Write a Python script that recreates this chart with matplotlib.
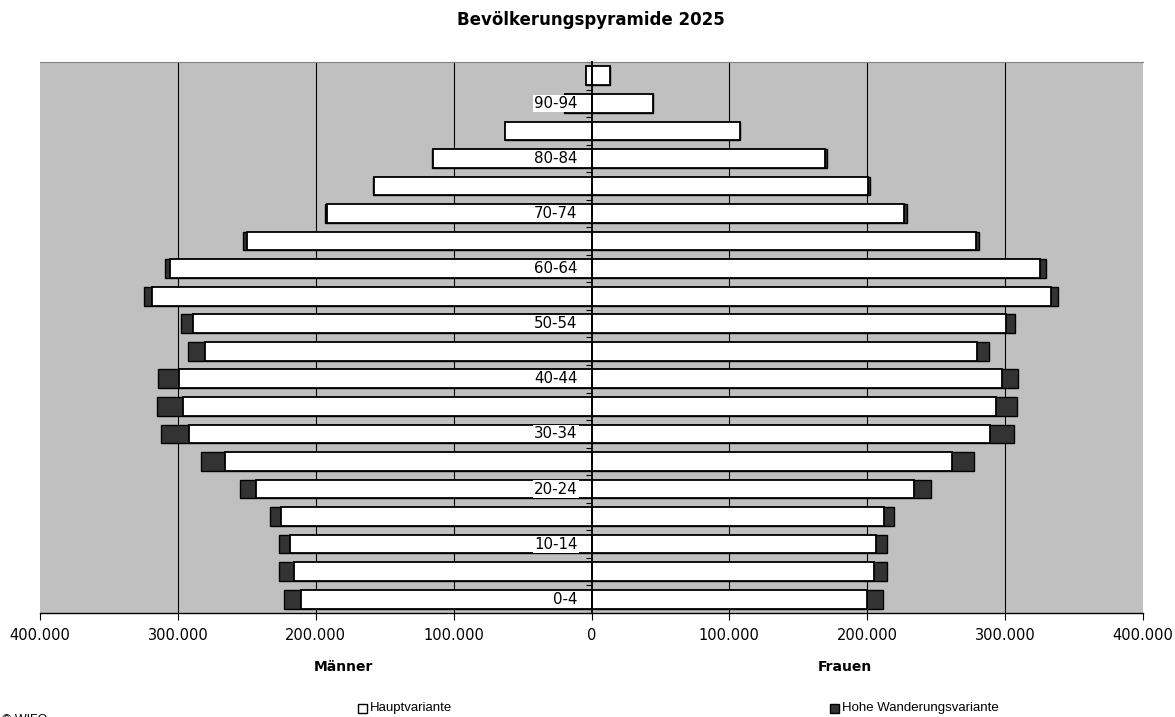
import matplotlib
matplotlib.use("Agg")
import matplotlib.pyplot as plt
from matplotlib.patches import Rectangle
import numpy as np

# age groups from youngest to oldest
age_groups = ['0-4', '5-9', '10-14', '15-19', '20-24', '25-29', '30-34', '35-39',
              '40-44', '45-49', '50-54', '55-59', '60-64', '65-69', '70-74',
              '75-79', '80-84', '85-89', '90-94', '95+']

# Männer, Hauptvariante / hohe Wanderungsvariante
men_main = [211000, 216000, 219000, 225500, 243000, 266000, 292000, 296000,
            299000, 280000, 289000, 318500, 306000, 250000, 191500, 157500,
            115000, 62500, 19500, 4000]
men_high = [223000, 226500, 227000, 233000, 255000, 283500, 312000, 315000,
            314500, 292500, 297500, 324500, 309500, 253000, 193500, 158500,
            115500, 63000, 19700, 4100]

# Frauen
women_main = [199600, 205000, 206600, 212400, 234000, 261200, 289000, 293300,
              298000, 279500, 300500, 333100, 325600, 278600, 226900, 200400,
              169700, 107400, 44400, 13300]
women_high = [211200, 214600, 214100, 219600, 246000, 277600, 306500, 308300,
              309700, 288000, 306800, 338000, 329300, 281200, 229000, 202000,
              171100, 107800, 44500, 13400]

xticks = [-400000, -300000, -200000, -100000, 0, 100000, 200000, 300000, 400000]

plt.rcParams['font.family'] = ['DejaVu Sans']

fig = plt.figure(figsize=(11.75, 7.17), dpi=100)
ax = fig.add_axes([40 / 1175, 1 - 613 / 717, 1103 / 1175, 551 / 717])
ax.set_facecolor('#c0c0c0')

y = np.arange(len(age_groups))
h = 0.68

# dark bars behind, white bars on top
ax.barh(y, -np.array(men_high), height=h, color='#333333', edgecolor='black', lw=1.0, zorder=3)
ax.barh(y, women_high, height=h, color='#333333', edgecolor='black', lw=1.0, zorder=3)
ax.barh(y, -np.array(men_main), height=h, color='white', edgecolor='black', lw=1.3, zorder=4)
ax.barh(y, women_main, height=h, color='white', edgecolor='black', lw=1.3, zorder=4)

# vertical grid lines
for g in [-300000, -200000, -100000, 100000, 200000, 300000]:
    ax.axvline(g, color='black', lw=0.8, zorder=1)

ax.set_xlim(-400000, 400000)
ax.set_ylim(-0.5, len(age_groups) - 0.5)

ax.set_xticks(xticks)
ax.set_xticklabels([f"{abs(v):,}".replace(',', '.') for v in xticks], fontsize=10.5)
ax.tick_params(axis='x', length=5, width=0.8, pad=6, direction='out')

# center axis with short ticks between the age groups
ax.spines['left'].set_position(('data', 0))
ax.spines['left'].set_zorder(6)
ax.spines['left'].set_linewidth(1.3)
ax.set_yticks(np.arange(-0.5, len(age_groups), 1.0))
ax.set_yticklabels([])
ax.tick_params(axis='y', length=4, width=0.8, direction='out')
ax.spines['right'].set_visible(False)
ax.spines['top'].set_color('#808080')
ax.spines['bottom'].set_linewidth(1.0)

# every second age group labelled at the center
for i, lab in enumerate(age_groups):
    if i % 2 == 0 and i < 19:
        ax.text(-10000, i, lab, ha='right', va='center', fontsize=10.8, zorder=7,
                bbox=dict(facecolor='white', edgecolor='none', pad=0.8))

fig.text(591 / 1175, 1 - 20 / 717, 'Bevölkerungspyramide 2025', ha='center', va='center',
         fontsize=12, fontweight='bold')
fig.text(343 / 1175, 1 - 667 / 717, 'Männer', ha='center', va='center', fontsize=10, fontweight='bold')
fig.text(845 / 1175, 1 - 667 / 717, 'Frauen', ha='center', va='center', fontsize=10, fontweight='bold')

# legend
for x0, fc, lab in [(358, 'white', 'Hauptvariante'), (830, '#333333', 'Hohe Wanderungsvariante')]:
    fig.patches.append(Rectangle((x0 / 1175, 1 - 713 / 717), 9 / 1175, 9 / 717,
                                 transform=fig.transFigure, facecolor=fc,
                                 edgecolor='black', lw=1.0))
    fig.text((x0 + 12) / 1175, 1 - 708 / 717, lab, ha='left', va='center',
             fontsize=9.5, family='Liberation Sans')

fig.text(0.002, 1 - 714 / 717, '© WIFO', ha='left', va='top', fontsize=9, family='Liberation Sans')

fig.savefig('out.png', dpi=100)
